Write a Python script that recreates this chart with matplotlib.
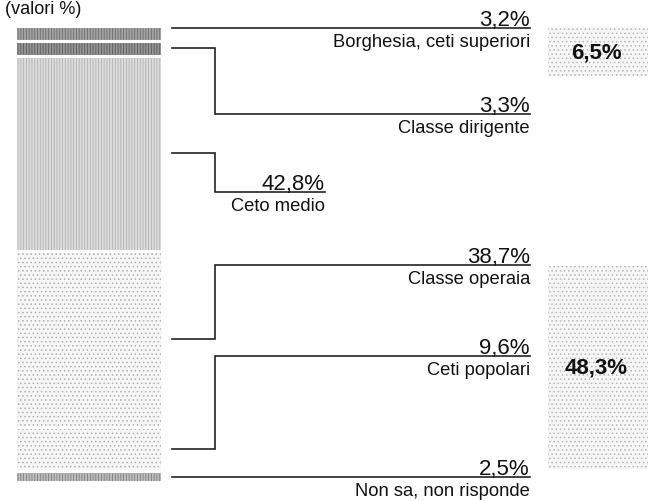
import matplotlib
matplotlib.use("Agg")
import matplotlib.pyplot as plt
from matplotlib.patches import Rectangle

# Data
categories = ["Borghesia, ceti superiori", "Classe dirigente", "Ceto medio",
              "Classe operaia", "Ceti popolari", "Non sa, non risponde"]
values = [3.2, 3.3, 42.8, 38.7, 9.6, 2.5]
value_labels = ["3,2%", "3,3%", "42,8%", "38,7%", "9,6%", "2,5%"]
group_labels = ["6,5%", "48,3%"]
title_text = "(valori %)"

# Layout (figure pixels)
W, H = 648, 502
BAR_X0, BAR_X1, BAR_TOP, BAR_BOT = 15, 162, 27, 483
LINE_X0, ELBOW_X = 172, 215
label_y = [29, 115, 193, 266, 357, 478]
label_right = [530, 530, 325, 530, 530, 530]
use_elbow = [False, True, True, True, True, False]

seg_face = ["#a4a4a4", "#949494", "#dcdcdc", "#f6f6f6", "#f6f6f6", "#bdbdbd"]
seg_hatch = ["||||||", "||||||", "||||||", "....", "....", "||||||"]
seg_hcol = ["#6a6a6a", "#5c5c5c", "#b4b4b4", "#b0b0b0", "#b0b0b0", "#808080"]

plt.rcParams["font.family"] = ["Liberation Sans", "DejaVu Sans"]
plt.rcParams["hatch.linewidth"] = 0.6

fig = plt.figure(figsize=(W / 100, H / 100), dpi=100)
ax = fig.add_axes([0, 0, 1, 1])
ax.set_xlim(0, W)
ax.set_ylim(H, 0)
ax.axis("off")

ax_bar = fig.add_axes([BAR_X0 / W, (H - BAR_BOT) / H,
                       (BAR_X1 - BAR_X0) / W, (BAR_BOT - BAR_TOP) / H])
total = sum(values)
ax_bar.set_xlim(0, 1)
ax_bar.set_ylim(total, 0)
ax_bar.axis("off")

bottoms = []
acc = 0
for v in values:
    bottoms.append(acc)
    acc += v

for v, b, fc, h, hc in zip(values, bottoms, seg_face, seg_hatch, seg_hcol):
    ax_bar.bar(0.5, v, bottom=b, width=1, color=fc, hatch=h,
               edgecolor=hc, linewidth=0)
    ax_bar.bar(0.5, v, bottom=b, width=1, fill=False,
               edgecolor="white", linewidth=2.2)


def bar_to_px(y):
    disp = ax_bar.transData.transform((1, y))
    return ax.transData.inverted().transform(disp)[1]


lc = "#222222"
for i, (v, b) in enumerate(zip(values, bottoms)):
    top_px, bot_px = bar_to_px(b), bar_to_px(b + v)
    ly = label_y[i]
    xr = label_right[i]
    if not use_elbow[i]:
        ax.plot([LINE_X0, xr], [ly, ly], color=lc, lw=1.2)
    else:
        sy = (top_px + bot_px) / 2
        ax.plot([LINE_X0, ELBOW_X, ELBOW_X, xr], [sy, sy, ly, ly],
                color=lc, lw=1.2, solid_joinstyle="miter")
    ax.text(xr, ly - 3, value_labels[i], ha="right", va="baseline",
            fontsize=16, color="#111111")
    ax.text(xr, ly + 5, categories[i], ha="right", va="top",
            fontsize=13.2, color="#111111")

# group total boxes
boxes = [(548, 28, 100, 49), (548, 267, 100, 203)]
for (bx, by, bw, bh), txt in zip(boxes, group_labels):
    ax.add_patch(Rectangle((bx, by), bw, bh, facecolor="#f6f6f6",
                           hatch="....", edgecolor="#b8b8b8", linewidth=0))
    ax.text(bx + bw / 2 - 2, by + bh / 2, txt, ha="center", va="center",
            fontsize=16, fontweight="bold", color="#111111")

ax.text(5, 1, title_text, ha="left", va="top", fontsize=13,
        color="#111111")

fig.savefig("out.png", dpi=100, facecolor="white")
